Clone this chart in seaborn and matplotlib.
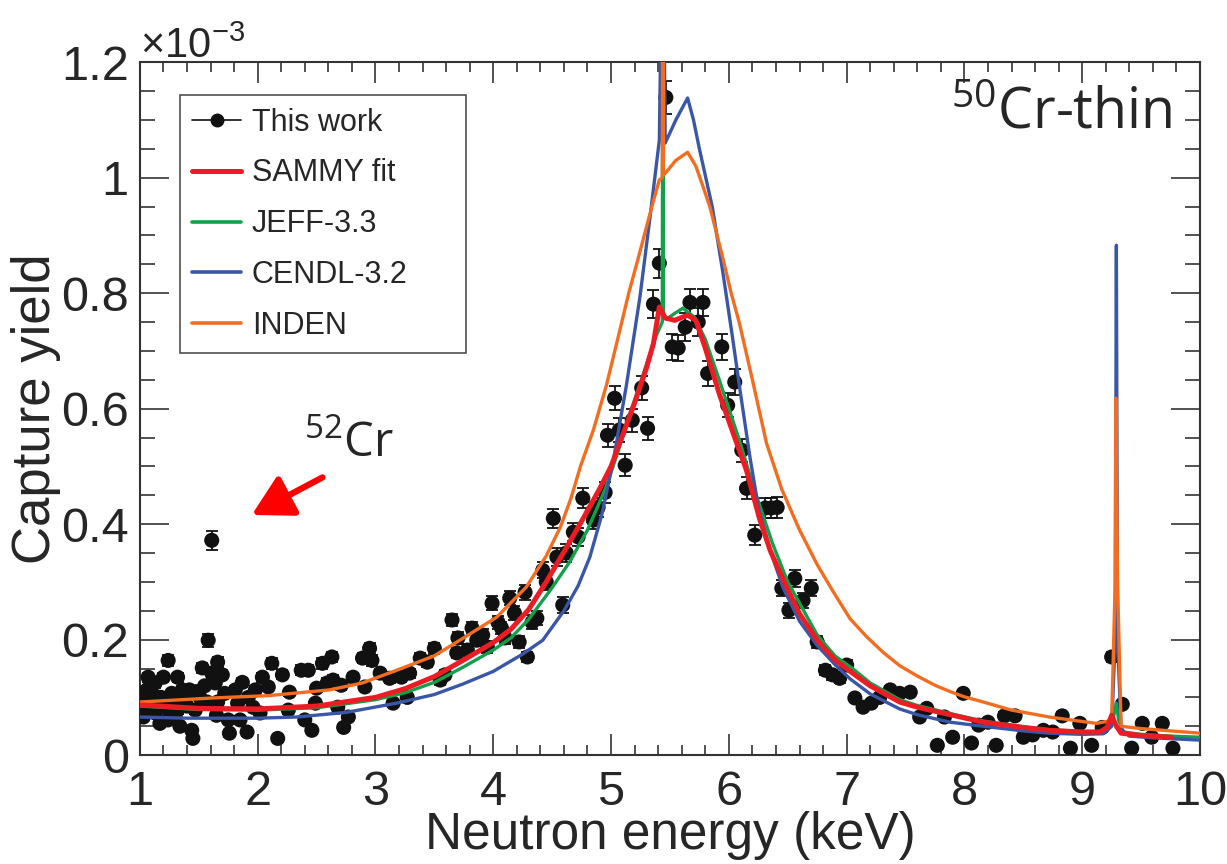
import matplotlib
matplotlib.use("Agg")
import matplotlib.pyplot as plt
from matplotlib.lines import Line2D
from matplotlib.ticker import MultipleLocator, FuncFormatter
import pandas as pd
import seaborn as sns

# measured capture yield (units of 1e-3)
energy = [
    1.00, 1.00, 1.02, 1.03, 1.05, 1.06, 1.07, 1.09, 1.10, 1.13, 1.13, 1.15, 1.17, 1.18, 1.20,
    1.21, 1.24, 1.24, 1.27, 1.28, 1.30, 1.32, 1.32, 1.34, 1.36, 1.38, 1.40, 1.42, 1.44, 1.45,
    1.47, 1.48, 1.51, 1.53, 1.55, 1.57, 1.58, 1.61, 1.61, 1.64, 1.65, 1.66, 1.66, 1.70, 1.72,
    1.75, 1.76, 1.81, 1.83, 1.85, 1.87, 1.91, 1.92, 1.96, 1.98, 2.02, 2.04, 2.09, 2.12, 2.17,
    2.21, 2.26, 2.27, 2.37, 2.40, 2.43, 2.46, 2.49, 2.50, 2.55, 2.59, 2.63,
    2.64, 2.68, 2.71, 2.73, 2.77, 2.81, 2.89, 2.91, 2.95, 2.97, 3.04, 3.12, 3.15, 3.22, 3.27,
    3.29, 3.38, 3.44, 3.50, 3.55, 3.59, 3.65, 3.69, 3.70, 3.78, 3.82, 3.86, 3.91, 3.95, 3.99,
    4.04, 4.07, 4.10, 4.14, 4.18, 4.22, 4.27, 4.29,
    4.33, 4.37, 4.42, 4.45, 4.51, 4.54, 4.59, 4.62, 4.68, 4.72, 4.76, 4.84, 4.85, 4.89, 4.95,
    4.97, 5.03, 5.07, 5.12, 5.18, 5.26, 5.31, 5.36, 5.41, 5.465,
    5.52, 5.57, 5.63, 5.67, 5.74, 5.78, 5.82, 5.94, 5.99, 6.05, 6.11, 6.15, 6.22, 6.31, 6.36,
    6.41,
    6.45, 6.51, 6.56, 6.63, 6.70, 6.75, 6.82, 6.88, 6.94, 7.00, 7.07, 7.14, 7.21, 7.28, 7.37,
    7.45, 7.54, 7.62, 7.68, 7.77, 7.83, 7.90, 7.99, 8.06, 8.12, 8.20, 8.27, 8.34, 8.43, 8.50,
    8.58, 8.67, 8.75, 8.83, 8.90, 8.98, 9.08, 9.17, 9.25, 9.34, 9.42, 9.51, 9.59, 9.68, 9.77,
]
yield_ = [
    0.107, 0.085, 0.073, 0.066, 0.090, 0.113, 0.135, 0.120, 0.095, 0.125, 0.073, 0.100, 0.055, 0.100, 0.135,
    0.083, 0.164, 0.061, 0.107, 0.090, 0.066, 0.135, 0.078, 0.050, 0.113, 0.100, 0.085, 0.113, 0.043, 0.029,
    0.078, 0.110, 0.100, 0.151, 0.120, 0.092, 0.199, 0.372, 0.142, 0.125, 0.069, 0.161, 0.092, 0.139, 0.107,
    0.061, 0.038, 0.113, 0.090, 0.061, 0.126, 0.040, 0.100, 0.083, 0.113, 0.073, 0.135, 0.118, 0.159, 0.029,
    0.139, 0.078, 0.109, 0.147, 0.061, 0.147, 0.043, 0.090, 0.116, 0.159, 0.125, 0.170,
    0.130, 0.083, 0.121, 0.048, 0.066, 0.135, 0.168, 0.118, 0.185, 0.164, 0.142, 0.133, 0.090, 0.135, 0.100,
    0.142, 0.168, 0.161, 0.185, 0.130, 0.139, 0.234, 0.177, 0.203, 0.182, 0.220, 0.199, 0.208, 0.187, 0.263,
    0.230, 0.220, 0.203, 0.272, 0.246, 0.196, 0.282, 0.170,
    0.230, 0.237, 0.320, 0.300, 0.410, 0.343, 0.260, 0.350, 0.386, 0.378, 0.445, 0.421, 0.407, 0.429, 0.455,
    0.554, 0.618, 0.563, 0.502, 0.580, 0.636, 0.566, 0.781, 0.852, 1.139,
    0.707, 0.705, 0.741, 0.784, 0.750, 0.784, 0.661, 0.707, 0.606, 0.646, 0.528, 0.462, 0.381, 0.428, 0.428,
    0.429,
    0.289, 0.251, 0.306, 0.268, 0.289, 0.196, 0.147, 0.139, 0.133, 0.156, 0.099, 0.083, 0.090, 0.100, 0.113,
    0.107, 0.109, 0.066, 0.081, 0.017, 0.066, 0.031, 0.107, 0.021, 0.052, 0.057, 0.017, 0.068, 0.068, 0.031,
    0.035, 0.043, 0.040, 0.068, 0.012, 0.055, 0.017, 0.048, 0.170, 0.088, 0.012, 0.055, 0.031, 0.055, 0.012,
]
yield_err = [
    0.006, 0.006, 0.006, 0.006, 0.006, 0.006, 0.008, 0.006, 0.006, 0.008, 0.006, 0.006, 0.006, 0.006, 0.008,
    0.006, 0.009, 0.006, 0.006, 0.006, 0.006, 0.008, 0.006, 0.006, 0.006, 0.006, 0.006, 0.006, 0.006, 0.006,
    0.006, 0.006, 0.006, 0.009, 0.006, 0.006, 0.011, 0.016, 0.008, 0.008, 0.006, 0.009, 0.006, 0.008, 0.006,
    0.006, 0.006, 0.006, 0.006, 0.006, 0.008, 0.006, 0.006, 0.006, 0.006, 0.006, 0.008, 0.006, 0.009, 0.006,
    0.008, 0.006, 0.006, 0.009, 0.006, 0.009, 0.006, 0.006, 0.006, 0.009, 0.008, 0.009,
    0.008, 0.006, 0.008, 0.006, 0.006, 0.008, 0.009, 0.006, 0.010, 0.009, 0.008, 0.008, 0.006, 0.008, 0.006,
    0.008, 0.009, 0.009, 0.010, 0.008, 0.008, 0.011, 0.009, 0.011, 0.010, 0.011, 0.010, 0.011, 0.010, 0.012,
    0.011, 0.011, 0.011, 0.012, 0.012, 0.010, 0.013, 0.009,
    0.012, 0.012, 0.014, 0.014, 0.016, 0.015, 0.013, 0.015, 0.016, 0.016, 0.017, 0.017, 0.016, 0.017, 0.018,
    0.020, 0.021, 0.020, 0.019, 0.020, 0.021, 0.020, 0.024, 0.025, 0.028,
    0.023, 0.023, 0.024, 0.024, 0.024, 0.024, 0.022, 0.023, 0.021, 0.022, 0.020, 0.019, 0.017, 0.018, 0.018,
    0.018,
    0.014, 0.013, 0.014, 0.013, 0.014, 0.011, 0.009, 0.009, 0.008, 0.009, 0.006, 0.006, 0.006, 0.006, 0.006,
    0.006, 0.006, 0.006, 0.006, 0.006, 0.006, 0.006, 0.006, 0.006, 0.006, 0.006, 0.006, 0.006, 0.006, 0.006,
    0.006, 0.006, 0.006, 0.006, 0.006, 0.006, 0.006, 0.006, 0.009, 0.006, 0.006, 0.006, 0.006, 0.006, 0.006,
]

# SAMMY fit
sammy_e = [1.0, 1.5, 2.0, 2.5, 3.0, 3.25, 3.5, 3.75, 4.0, 4.15, 4.3, 4.45, 4.6, 4.75, 4.9, 5.0, 5.1,
           5.2, 5.3, 5.36, 5.41, 5.46, 5.54, 5.65, 5.72, 5.8, 5.92, 6.05, 6.15, 6.26, 6.35, 6.49, 6.6,
           6.75, 6.9, 7.03, 7.2, 7.45, 7.6, 7.88, 8.16, 8.5, 8.72, 9.0, 9.15, 9.21, 9.25, 9.29, 9.33,
           9.5, 9.76]
sammy_y = [0.087, 0.081, 0.080, 0.085, 0.100, 0.115, 0.136, 0.165, 0.195, 0.218, 0.252, 0.300, 0.352,
           0.405, 0.460, 0.500, 0.555, 0.610, 0.670, 0.713, 0.776, 0.757, 0.753, 0.762, 0.753, 0.705,
           0.625, 0.550, 0.493, 0.410, 0.355, 0.291, 0.245, 0.199, 0.165, 0.145, 0.120, 0.092, 0.083,
           0.070, 0.057, 0.048, 0.043, 0.040, 0.040, 0.048, 0.069, 0.050, 0.038, 0.034, 0.031]

# JEFF-3.3
jeff_e = [1.0, 1.5, 2.0, 2.5, 3.0, 3.25, 3.5, 3.75, 4.0, 4.15, 4.3, 4.5, 4.65, 4.8, 4.95, 5.05, 5.15,
          5.25, 5.33, 5.38, 5.435, 5.44, 5.445, 5.47, 5.54, 5.61, 5.71, 5.8, 5.92, 6.09, 6.2, 6.37,
          6.5, 6.75, 6.9, 7.05, 7.2, 7.45, 7.6, 7.88, 8.16, 8.5, 8.72, 9.0, 9.15, 9.22, 9.27, 9.29,
          9.31, 9.35, 9.5, 9.75, 10.0]
jeff_y = [0.085, 0.079, 0.078, 0.082, 0.096, 0.108, 0.126, 0.153, 0.182, 0.203, 0.235, 0.290, 0.335,
          0.390, 0.460, 0.520, 0.585, 0.645, 0.695, 0.725, 0.750, 1.500, 0.760, 0.755, 0.765, 0.774,
          0.758, 0.720, 0.649, 0.545, 0.470, 0.367, 0.300, 0.208, 0.172, 0.150, 0.125, 0.096, 0.086,
          0.072, 0.059, 0.049, 0.044, 0.041, 0.041, 0.045, 0.070, 0.090, 0.060, 0.040, 0.036, 0.033,
          0.031]

# CENDL-3.2
cendl_e = [1.0, 1.4, 2.0, 2.33, 2.75, 3.18, 3.5, 3.74, 4.0, 4.25, 4.42, 4.6, 4.72, 4.82, 4.92, 5.02,
           5.13, 5.245, 5.33, 5.41, 5.44, 5.46, 5.55, 5.65, 5.7, 5.75, 5.86, 5.95, 6.03, 6.1, 6.18,
           6.25, 6.35, 6.46, 6.6, 6.75, 6.9, 7.03, 7.2, 7.45, 7.6, 7.88, 8.16, 8.5, 8.72, 9.0, 9.18,
           9.25, 9.28, 9.29, 9.30, 9.33, 9.4, 9.6, 10.0]
cendl_y = [0.066, 0.064, 0.064, 0.066, 0.074, 0.090, 0.105, 0.123, 0.145, 0.175, 0.199, 0.250, 0.293,
           0.343, 0.415, 0.511, 0.640, 0.793, 0.930, 1.065, 1.500, 1.060, 1.100, 1.138, 1.100, 1.050,
           0.949, 0.835, 0.725, 0.625, 0.515, 0.430, 0.355, 0.290, 0.232, 0.190, 0.157, 0.132, 0.106,
           0.080, 0.070, 0.057, 0.050, 0.042, 0.038, 0.036, 0.037, 0.050, 0.200, 0.883, 0.200, 0.045,
           0.033, 0.030, 0.026]

# INDEN
inden_e = [1.0, 1.62, 2.09, 2.61, 2.89, 3.18, 3.5, 3.74, 4.03, 4.28, 4.45, 4.57, 4.66, 4.74, 4.85,
           4.96, 5.05, 5.15, 5.23, 5.3, 5.36, 5.41, 5.435, 5.44, 5.445, 5.47, 5.55, 5.65, 5.72, 5.78,
           5.84, 5.9, 5.95, 6.02, 6.09, 6.2, 6.32, 6.45, 6.6, 6.75, 6.88, 7.03, 7.17, 7.31, 7.45, 7.6,
           7.75, 7.88, 8.0, 8.16, 8.4, 8.72, 9.12, 9.25, 9.28, 9.285, 9.30, 9.33, 9.5, 10.0]
inden_y = [0.092, 0.099, 0.103, 0.113, 0.125, 0.147, 0.172, 0.202, 0.239, 0.291, 0.345, 0.395, 0.445,
           0.500, 0.563, 0.640, 0.715, 0.800, 0.860, 0.914, 0.960, 0.996, 1.000, 1.500, 1.005, 1.010,
           1.030, 1.044, 1.020, 0.985, 0.949, 0.900, 0.860, 0.800, 0.748, 0.650, 0.540, 0.460, 0.390,
           0.330, 0.285, 0.236, 0.205, 0.178, 0.155, 0.137, 0.121, 0.110, 0.101, 0.092, 0.078, 0.066,
           0.055, 0.060, 0.300, 0.618, 0.300, 0.050, 0.046, 0.038]

colors = {
    "SAMMY fit": "#ec1c24",
    "JEFF-3.3": "#12a04b",
    "CENDL-3.2": "#3a56a6",
    "INDEN": "#f36d21",
}

sns.set_style("ticks")
plt.rcParams["font.family"] = ["Liberation Sans", "DejaVu Sans"]
plt.rcParams["mathtext.default"] = "regular"

fig = plt.figure(figsize=(12.27, 8.64), dpi=100)
ax = fig.add_axes([0.114, 0.126, 0.864, 0.802])

data = pd.DataFrame({"energy": energy, "yield": yield_, "err": yield_err})
ax.errorbar(data["energy"], data["yield"], yerr=data["err"], fmt="none",
            ecolor="#111111", elinewidth=1.3, capsize=4, capthick=1.3, zorder=2)
sns.scatterplot(data=data, x="energy", y="yield", color="#111111", s=118,
                edgecolor="none", ax=ax, zorder=3)

curves = [
    ("JEFF-3.3", jeff_e, jeff_y, 2.4),
    ("CENDL-3.2", cendl_e, cendl_y, 2.4),
    ("INDEN", inden_e, inden_y, 2.4),
    ("SAMMY fit", sammy_e, sammy_y, 3.6),
]
for name, xe, ye, lw in curves:
    sns.lineplot(x=xe, y=ye, color=colors[name], lw=lw, sort=False, estimator=None,
                 ax=ax, zorder=4)

ax.set_xlim(1, 10)
ax.set_ylim(0, 1.2)
ax.xaxis.set_major_locator(MultipleLocator(1))
ax.xaxis.set_minor_locator(MultipleLocator(0.2))
ax.yaxis.set_major_locator(MultipleLocator(0.2))
ax.yaxis.set_minor_locator(MultipleLocator(0.05))
ax.yaxis.set_major_formatter(FuncFormatter(lambda v, _: f"{v:g}"))

ax.tick_params(which="both", direction="in", top=True, right=True, width=1.2, color="#333333",
               labelsize=35)
ax.tick_params(axis="x", which="major", length=15, pad=11)
ax.tick_params(axis="x", which="minor", length=7)
ax.tick_params(axis="y", which="major", length=21, pad=8)
ax.tick_params(axis="y", which="minor", length=10.5)
for sp in ax.spines.values():
    sp.set_linewidth(1.5)
    sp.set_color("#333333")

ax.set_xlabel("Neutron energy (keV)", fontsize=37, labelpad=-3)
ax.set_ylabel("Capture yield", fontsize=38, labelpad=0)

ax.text(0.0, 1.006, r"$\mathregular{×10^{-3}}$", transform=ax.transAxes, fontsize=30,
        ha="left", va="baseline")

handles = [Line2D([], [], color="#111111", lw=1.2, marker="o", markersize=9)]
labels = ["This work"]
for name in ["SAMMY fit", "JEFF-3.3", "CENDL-3.2", "INDEN"]:
    handles.append(Line2D([], [], color=colors[name], lw=3.6 if name == "SAMMY fit" else 2.6))
    labels.append(name)
leg = ax.legend(handles, labels, loc="upper left", bbox_to_anchor=(0.038, 0.584, 0.27, 0.368),
                mode="expand", borderaxespad=0, fontsize=22, frameon=True, fancybox=False,
                edgecolor="#222222", handlelength=1.6, handletextpad=0.35,
                labelspacing=0.68, borderpad=0.4)
leg.get_frame().set_linewidth(1.2)
leg.set_zorder(6)

ax.text(0.765, 0.905, r"$\mathregular{^{50}}$Cr-thin", transform=ax.transAxes,
        fontsize=40, family=["Open Sans", "DejaVu Sans"], ha="left", va="baseline")
ax.text(0.155, 0.43, r"$\mathregular{^{52}}$Cr", transform=ax.transAxes,
        fontsize=34, family=["Open Sans", "DejaVu Sans"], ha="left", va="baseline")
ax.annotate("", xy=(1.95, 0.416), xytext=(2.55, 0.481),
            arrowprops=dict(arrowstyle="-|>,head_length=0.9,head_width=0.5", color="#ff0000",
                            lw=4.5, mutation_scale=27, shrinkA=0, shrinkB=0))

fig.savefig("out.png", dpi=100)
